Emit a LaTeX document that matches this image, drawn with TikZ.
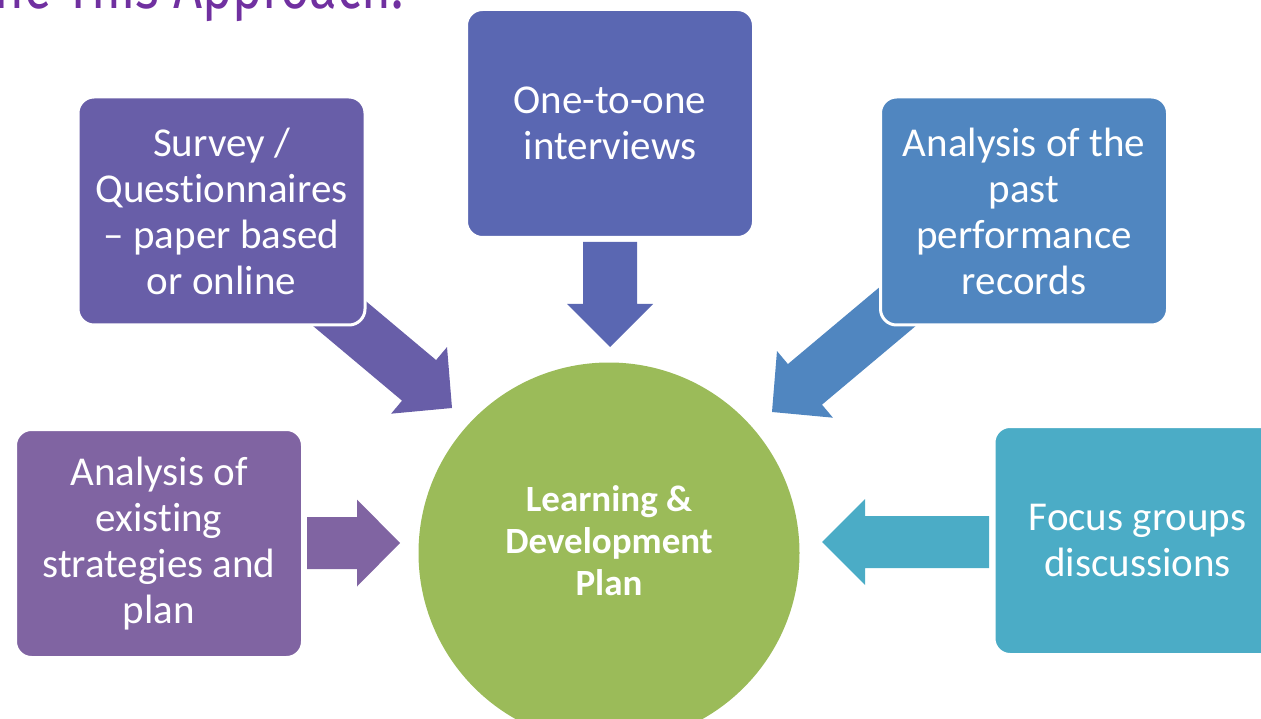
\documentclass[tikz,border=0pt]{standalone}
\usepackage{fontspec}
\setmainfont{Carlito}[Ligatures=NoCommon]
\newfontfamily\titlefont{Fira Sans}[Ligatures=NoCommon]
\definecolor{cSurvey}{HTML}{685EA8}
\definecolor{cInter}{HTML}{5A67B2}
\definecolor{cPast}{HTML}{5086C0}
\definecolor{cExist}{HTML}{8064A2}
\definecolor{cFocus}{HTML}{4BACC6}
\definecolor{cPlan}{HTML}{9BBB59}
\definecolor{cTitle}{HTML}{7030A0}
\tikzset{
  infobox/.style={rectangle, rounded corners=16pt, draw=white, line width=3pt,
    minimum width=287pt, minimum height=228pt, align=center, text=white,
    inner sep=4pt, font=\fontsize{41}{46}\selectfont},
  plancircle/.style={circle, fill=cPlan, minimum size=381pt},
  plantext/.style={align=center, text=white, inner sep=0pt,
    font=\bfseries\fontsize{37}{42}\selectfont},
}
% colour, tip x, tip y, rotation, length, half shaft, half head, head length
\newcommand\blockarrow[8]{%
  \fill[#1, shift={(#2,#3)}, rotate=#4]
    (0,0) -- (-#8,#7) -- (-#8,#6) -- (-#5,#6) -- (-#5,-#6)
    -- (-#8,-#6) -- (-#8,-#7) -- cycle;}
\begin{document}
\begin{tikzpicture}[x=1pt,y=-1pt]
\useasboundingbox (0,0) rectangle (1261,719);
\clip (0,0) rectangle (1261,719);
% title (cut off by the top edge)
\node[anchor=base east, inner sep=0pt, text=cTitle] (title) at (404,9)
  {\titlefont\fontsize{62}{62}\selectfont\scalebox{0.82}[1]{ne This Approach:}};
% block arrows
\blockarrow{cSurvey}{452}{408}{-40}{185}{26.5}{43.5}{43}
\blockarrow{cInter}{610}{347}{-90}{105}{27}{43}{43}
\blockarrow{cPast}{772}{412}{-140}{185}{26.5}{43.5}{43}
\blockarrow{cExist}{400}{543}{0}{93}{26}{43.5}{43}
\blockarrow{cFocus}{822}{542}{180}{167}{26}{43}{43}
% boxes
\node[infobox, fill=cSurvey] (survey) at (221.5,211) {Survey /\\Questionnaires\\– paper based\\or online};
\node[infobox, fill=cInter] (inter) at (610,123.5) {One-to-one\\interviews};
\node[infobox, fill=cPast] (past) at (1024,211) {Analysis of the\\past\\performance\\records};
\node[infobox, fill=cExist] (exist) at (159,543.5) {Analysis of\\existing\\strategies and\\plan};
\node[infobox, fill=cFocus] (focus) at (1137.5,540.5) {Focus groups\\discussions};
% centre
\node[plancircle] (plan) at (609,553) {};
\node[plantext] (plantxt) at (609,541) {Learning \&\\Development\\Plan};
\end{tikzpicture}
\end{document}
